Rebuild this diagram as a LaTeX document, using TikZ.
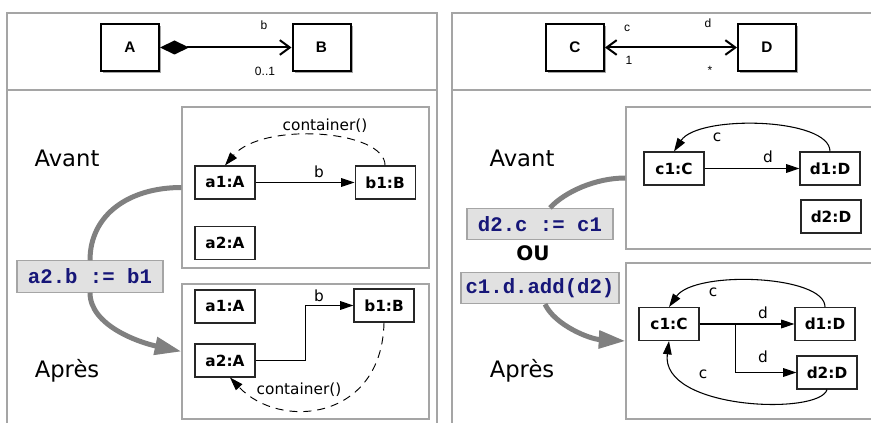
\documentclass[tikz,border=0pt]{standalone}
\usepackage{fontspec}
\setmainfont{DejaVu Sans}
\setmonofont{Liberation Mono}
\newfontfamily\umlfont{Liberation Sans}
\usetikzlibrary{arrows.meta,positioning,shadows}
\definecolor{framegray}{RGB}{165,165,165}
\definecolor{codeblue}{RGB}{22,22,120}
\definecolor{codebg}{RGB}{225,225,225}
\definecolor{flowgray}{RGB}{128,128,128}
\tikzset{
  panel/.style={draw=framegray,line width=1.1pt},
  frame/.style={draw=framegray,line width=0.9pt,inner sep=0pt},
  class/.style={draw,line width=1.5pt,fill=white,minimum width=43.5pt,minimum height=35.25pt,inner sep=0pt,
    font=\umlfont\bfseries\fontsize{11.5}{13}\selectfont,
    drop shadow={shadow xshift=1.5pt,shadow yshift=-1.5pt,fill=black!35,opacity=1}},
  obj/.style={draw=black!85,line width=0.8pt,fill=white,minimum width=45pt,minimum height=24.75pt,inner sep=0pt,
    font=\bfseries\fontsize{11.5}{13}\selectfont},
  code/.style={draw=framegray,fill=codebg,line width=0.8pt,minimum height=23.5pt,inner sep=0pt,
    text=codeblue,font=\ttfamily\bfseries\fontsize{15.5}{17}\selectfont},
  lbl/.style={font=\fontsize{11.5}{13}\selectfont,inner sep=1pt},
  umllbl/.style={font=\umlfont\fontsize{9}{10}\selectfont,inner sep=1pt},
  state/.style={font=\fontsize{17}{20}\selectfont},
  link/.style={line width=0.8pt,-{Triangle[length=10pt,width=6.5pt]}},
  back/.style={link,dash pattern=on 6pt off 4.5pt,line width=0.7pt},
  flow/.style={draw=flowgray,line width=3.75pt},
  flowtip/.style={flow,-{Triangle[length=20pt,width=13pt]}}
}

\begin{document}
\begin{tikzpicture}[x=0.75pt,y=-0.75pt]
  \useasboundingbox (0,0) rectangle (871,423);
  \clip (0,0) rectangle (871,423);

  % panels
  \draw[panel] (7,440) |- (437,13) -- (437,440);
  \draw[panel] (7,90) -- (437,90);
  \draw[panel] (452,440) |- (890,13);
  \draw[panel] (452,90) -- (890,90);

  % class diagrams
  \node[class] (A) at (130,47.5) {A};
  \node[class] (B) at (321.5,47.5) {B};
  \node[class] (C) at (575,47.5) {C};
  \node[class] (D) at (767,47.5) {D};

  \draw[line width=1.5pt,{Diamond[length=21.75pt,width=10.5pt]}-{Straight Barb[length=7.5pt,width=11pt]}] (A) -- (B);
  \draw[line width=1.5pt,{Straight Barb[length=7.5pt,width=11pt]}-{Straight Barb[length=7.5pt,width=11pt]}] (C) -- (D);
  \node[umllbl] (lb) at (264,25) {b};
  \node[umllbl] (lmul) at (265,71) {0..1};
  \node[umllbl] (lc) at (627,28) {c};
  \node[umllbl] (lone) at (629,60) {1};
  \node[umllbl] (ld) at (708,23) {d};
  \node[umllbl] (lstar) at (710,70) {*};

  % left: a2.b := b1
  \node[frame,minimum width=185.25pt,minimum height=120.75pt] (avant1) at (305.5,187.5) {};
  \node[frame,minimum width=185.25pt,minimum height=101.25pt] (apres1) at (305.5,351.5) {};
  \node[state] (av1) at (67,158) {Avant};
  \node[state] (ap1) at (67,371) {Après};

  \node[obj] (a1) at (225,182.5) {a1:A};
  \node[obj] (b1) [right=74.25pt of a1] {b1:B};
  \node[obj] (a2) [below=19.5pt of a1] {a2:A};

  \draw[link] (a1) -- (b1);
  \node[lbl] (lb1) at (319,172) {b};
  \draw[back] (b1.north) .. controls +(0,-36) and +(37,-44) .. (a1.north);
  \node[lbl] (lcont1) at (325,126) {container()};

  \node[obj] (a1p) at (225,306.5) {a1:A};
  \node[obj] (b1p) at (384,305.5) {b1:B};
  \node[obj] (a2p) at (225,360.5) {a2:A};

  \draw[link] (a2p.east) -- ++(50,0) |- (b1p.west);
  \node[lbl] (lb2) at (319,296) {b};
  \draw[back] (b1p.south) .. controls +(-2,98) and +(50,53) .. ([xshift=3.75pt]a2p.south);
  \node[lbl] (lcont2) at (299,390) {container()};

  \node[code,minimum width=109.5pt] (code1) at (90,276.5) {a2.b := b1};
  \draw[flow] (avant1.west) .. controls +(-52,0) and +(0,-46) .. (code1.north);
  \draw[flowtip] (code1.south) .. controls +(0,33) and +(-42,-9) .. (apres1.west);

  % right: d2.c := c1 / c1.d.add(d2)
  \node[frame,minimum width=195pt,minimum height=106.5pt] (avant2) at (756,178) {};
  \node[frame,minimum width=195pt,minimum height=117pt] (apres2) at (756,341) {};
  \node[state] (av2) at (522,158) {Avant};
  \node[state] (ap2) at (522,371) {Après};

  \node[obj] (c1) at (674,168.5) {c1:C};
  \node[obj] (d1) at (830,168.5) {d1:D};
  \node[obj] (d2) at (831,216.5) {d2:D};

  \draw[link] (c1) -- (d1);
  \node[lbl] (ld1) at (768,157) {d};
  \draw[link] (d1.north) .. controls +(0,-34) and +(24,-37) .. (c1.north);
  \node[lbl] (lc1) at (717,137) {c};

  \node[obj] (c1p) at (669,324) {c1:C};
  \node[obj] (d1p) at (825,324) {d1:D};
  \node[obj] (d2p) at (827,372.5) {d2:D};
  \coordinate (fork) at ([xshift=27pt]c1p.east);

  \draw[link] (c1p) -- (d1p);
  \draw[link] (fork) |- (d2p.west);
  \node[lbl] (ld2) at (763,313) {d};
  \node[lbl] (ld3) at (763,357) {d};
  \draw[link] (d1p.north) .. controls +(0,-32) and +(26,-37) .. (c1p.north);
  \node[lbl] (lc2) at (713,292) {c};
  \draw[link] (d2p.south) .. controls +(-7,26) and +(-9,69) .. (c1p.south);
  \node[lbl] (lc3) at (703,374) {c};

  \node[code,minimum width=109.5pt] (code2) at (540,224) {d2.c := c1};
  \node[font=\bfseries\fontsize{15}{17}\selectfont] (ou) at (533,253) {OU};
  \node[code,minimum width=118.5pt] (code3) at (540,288) {c1.d.add(d2)};
  \draw[flow] (avant2.west) .. controls +(-30,0) and +(15,-16) .. ([xshift=7.5pt]code2.north);
  \draw[flowtip] ([xshift=3.75pt]code3.south) .. controls +(10,21) and +(-36,-2) .. (apres2.west);
\end{tikzpicture}
\end{document}
